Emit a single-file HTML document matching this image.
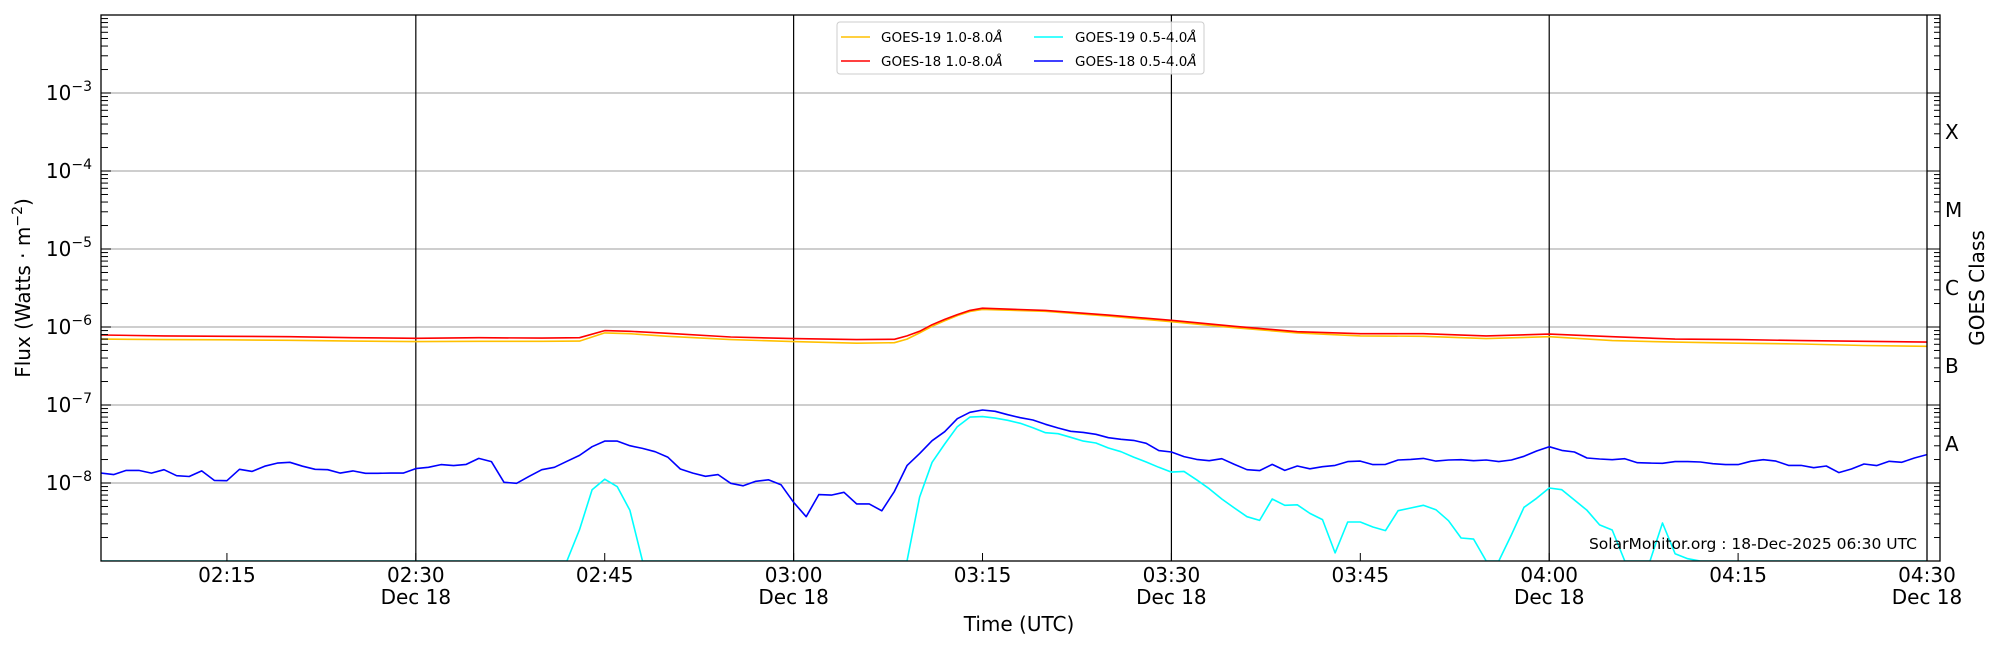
<!DOCTYPE html>
<html><head><meta charset="utf-8"><style>
html,body{margin:0;padding:0;background:#fff;}
svg{display:block;font-family:"DejaVu Sans","Liberation Sans",sans-serif;}
</style></head><body>
<svg id="chart" width="2000" height="650" viewBox="0 0 2000 650" xmlns="http://www.w3.org/2000/svg">
<defs><clipPath id="plotclip"><rect x="101" y="15" width="1826" height="546"/></clipPath></defs>
<rect x="0" y="0" width="2000" height="650" fill="#fff"/>
<g id="grid"></g>
<g id="vlines"></g>
<g id="series" clip-path="url(#plotclip)"></g>
<g id="axes"></g>
<g id="legend">
  <rect x="837" y="22" width="367" height="52" rx="3" fill="#fff" fill-opacity="0.8" stroke="#ccc" stroke-width="1"/>
  <line x1="841" y1="37" x2="870" y2="37" stroke="#ffc000" stroke-width="1.5"/>
  <text x="881" y="42" font-size="13.5">GOES-19 1.0-8.0<tspan font-style="italic">Å</tspan></text>
  <line x1="841" y1="61" x2="870" y2="61" stroke="#ff0000" stroke-width="1.5"/>
  <text x="881" y="66" font-size="13.5">GOES-18 1.0-8.0<tspan font-style="italic">Å</tspan></text>
  <line x1="1034" y1="37" x2="1063" y2="37" stroke="#00ffff" stroke-width="1.5"/>
  <text x="1075" y="42" font-size="13.5">GOES-19 0.5-4.0<tspan font-style="italic">Å</tspan></text>
  <line x1="1034" y1="61" x2="1063" y2="61" stroke="#0000ff" stroke-width="1.5"/>
  <text x="1075" y="66" font-size="13.5">GOES-18 0.5-4.0<tspan font-style="italic">Å</tspan></text>
</g>
<text x="1917" y="549" font-size="15.5" text-anchor="end">SolarMonitor.org : 18-Dec-2025 06:30 UTC</text>
<text transform="translate(30,288) rotate(-90)" font-size="20" text-anchor="middle">Flux (Watts · m<tspan dy="-8" font-size="14">−2</tspan><tspan dy="8">)</tspan></text>
<text transform="translate(1984,288) rotate(-90)" font-size="20" text-anchor="middle">GOES Class</text>
<text x="1019" y="631" font-size="20" text-anchor="middle">Time (UTC)</text>
</svg>
<script>
// minutes since 02:05 UTC
const shortMinutes = Array.from({length:146},(_, i)=>i);
const goes18Short = [
1.34e-8,1.28e-8,1.45e-8,1.45e-8,1.34e-8,1.48e-8,1.24e-8,1.21e-8,1.43e-8,1.08e-8,
1.07e-8,1.50e-8,1.41e-8,1.64e-8,1.80e-8,1.84e-8,1.64e-8,1.50e-8,1.48e-8,1.34e-8,
1.43e-8,1.33e-8,1.33e-8,1.34e-8,1.34e-8,1.53e-8,1.59e-8,1.72e-8,1.67e-8,1.73e-8,
2.07e-8,1.88e-8,1.02e-8,0.99e-8,1.22e-8,1.48e-8,1.59e-8,1.90e-8,2.26e-8,2.92e-8,
3.45e-8,3.45e-8,3.01e-8,2.78e-8,2.52e-8,2.15e-8,1.51e-8,1.34e-8,1.22e-8,1.28e-8,
0.99e-8,0.92e-8,1.05e-8,1.10e-8,0.95e-8,0.565e-8,0.37e-8,0.71e-8,0.70e-8,0.76e-8,
0.54e-8,0.54e-8,0.44e-8,0.78e-8,1.67e-8,2.38e-8,3.49e-8,4.55e-8,6.68e-8,8.05e-8,
8.63e-8,8.30e-8,7.52e-8,6.88e-8,6.43e-8,5.65e-8,5.07e-8,4.60e-8,4.46e-8,4.21e-8,
3.81e-8,3.63e-8,3.52e-8,3.23e-8,2.60e-8,2.50e-8,2.18e-8,2.01e-8,1.93e-8,2.05e-8,
1.73e-8,1.48e-8,1.44e-8,1.73e-8,1.45e-8,1.65e-8,1.52e-8,1.62e-8,1.68e-8,1.88e-8,
1.91e-8,1.72e-8,1.73e-8,1.97e-8,2.01e-8,2.07e-8,1.91e-8,1.97e-8,1.99e-8,1.93e-8,
1.97e-8,1.88e-8,1.97e-8,2.20e-8,2.57e-8,2.92e-8,2.62e-8,2.50e-8,2.09e-8,2.03e-8,
1.99e-8,2.05e-8,1.82e-8,1.80e-8,1.79e-8,1.88e-8,1.88e-8,1.86e-8,1.77e-8,1.72e-8,
1.72e-8,1.90e-8,1.99e-8,1.91e-8,1.68e-8,1.68e-8,1.57e-8,1.65e-8,1.36e-8,1.51e-8,
1.75e-8,1.67e-8,1.90e-8,1.84e-8,2.09e-8,2.31e-8];
const goes19Short = [
1e-9,1e-9,1e-9,1e-9,1e-9,1e-9,1e-9,1e-9,1e-9,1e-9,
1e-9,1e-9,1e-9,1e-9,1e-9,1e-9,1e-9,1e-9,1e-9,1e-9,
1e-9,1e-9,1e-9,1e-9,1e-9,1e-9,1e-9,1e-9,1e-9,1e-9,
1e-9,1e-9,1e-9,1e-9,1e-9,1e-9,1e-9,1e-9,2.52e-9,8.2e-9,
1.12e-8,8.97e-9,4.47e-9,1e-9,1e-9,1e-9,1e-9,1e-9,1e-9,1e-9,
1e-9,1e-9,1e-9,1e-9,1e-9,1e-9,1e-9,1e-9,1e-9,1e-9,
1e-9,1e-9,1e-9,1e-9,1e-9,6.6e-9,1.84e-8,3.16e-8,5.27e-8,7.0e-8,
7.1e-8,6.8e-8,6.36e-8,5.82e-8,5.12e-8,4.42e-8,4.29e-8,3.85e-8,3.45e-8,3.26e-8,
2.81e-8,2.52e-8,2.15e-8,1.86e-8,1.59e-8,1.38e-8,1.41e-8,1.10e-8,8.46e-9,6.23e-9,
4.78e-9,3.70e-9,3.32e-9,6.23e-9,5.17e-9,5.25e-9,4.08e-9,3.39e-9,1.27e-9,3.16e-9,
3.16e-9,2.73e-9,2.45e-9,4.42e-9,4.78e-9,5.17e-9,4.55e-9,3.29e-9,1.97e-9,1.91e-9,
1e-9,1e-9,2.16e-9,4.88e-9,6.36e-9,8.63e-9,8.2e-9,6.05e-9,4.47e-9,2.9e-9,
2.5e-9,1e-9,1e-9,1e-9,3.07e-9,1.24e-9,1.07e-9,1e-9,1e-9,1e-9,
1e-9,1e-9,1e-9,1e-9,1e-9,1e-9,1e-9,1e-9,1e-9,1e-9,
1e-9,1e-9,1e-9,1e-9,1e-9,1e-9];
const longMinutes = [0,5,10,15,20,25,30,35,38,40,42,45,50,55,60,63,64,65,66,67,68,69,70,75,80,85,90,95,100,105,110,115,120,125,130,135,140,145];
const goes18Long = [7.9e-7,7.7e-7,7.6e-7,7.5e-7,7.3e-7,7.16e-7,7.3e-7,7.2e-7,7.3e-7,9.0e-7,8.8e-7,8.3e-7,7.45e-7,7.1e-7,6.9e-7,6.95e-7,7.7e-7,8.8e-7,1.07e-6,1.25e-6,1.44e-6,1.63e-6,1.74e-6,1.63e-6,1.42e-6,1.22e-6,1.02e-6,8.7e-7,8.2e-7,8.2e-7,7.7e-7,8.1e-7,7.5e-7,7.0e-7,6.9e-7,6.7e-7,6.55e-7,6.4e-7];
const goes19Long = [7.0e-7,6.9e-7,6.85e-7,6.75e-7,6.6e-7,6.5e-7,6.55e-7,6.55e-7,6.6e-7,8.4e-7,8.2e-7,7.6e-7,6.9e-7,6.5e-7,6.2e-7,6.3e-7,7.0e-7,8.4e-7,1.02e-6,1.2e-6,1.4e-6,1.58e-6,1.68e-6,1.59e-6,1.38e-6,1.17e-6,9.8e-7,8.4e-7,7.7e-7,7.6e-7,7.1e-7,7.5e-7,6.7e-7,6.4e-7,6.2e-7,6.05e-7,5.8e-7,5.65e-7];
const xTickMinutes = [10,25,40,55,70,85,100,115,130,145];
const xTickLabels = ["02:15","02:30","02:45","03:00","03:15","03:30","03:45","04:00","04:15","04:30"];
const yTickExps = [-3,-4,-5,-6,-7,-8];
const classLabels = ["A","B","C","M","X"];
const classExps = [-7.5,-6.5,-5.5,-4.5,-3.5];

const NS="http://www.w3.org/2000/svg";
const L=101,R=1927,T=15,B=561;
const xMin=0,xMax=145,yMinE=-9,yMaxE=-2;
function xs(m){return L+(m-xMin)/(xMax-xMin)*(R-L);}
function ysE(e){return B-(e-yMinE)/(yMaxE-yMinE)*(B-T);}
function ys(v){return ysE(Math.log10(v));}
function mk(tag,attrs,parent){const e=document.createElementNS(NS,tag);for(const k in attrs)e.setAttribute(k,attrs[k]);parent.appendChild(e);return e;}
const grid=document.getElementById('grid'),vl=document.getElementById('vlines'),ser=document.getElementById('series'),ax=document.getElementById('axes');

yTickExps.forEach(e=>{
  const y=ys(Math.pow(10,e));
  const g=mk('line',{x1:L,x2:R,y1:y,y2:y,stroke:'#b0b0b0','stroke-width':1.2},grid);
  
  
  const t=mk('text',{x:L-9,y:y+7,'font-size':20,'text-anchor':'end'},ax);
  
  
  t.textContent='10';
  const s=document.createElementNS(NS,'tspan');s.setAttribute('dy','-9');s.setAttribute('font-size','14');s.textContent='−'+(-e);t.appendChild(s);
});
for(let e=yMinE;e<yMaxE;e++){
  for(let k=1;k<10;k++){
    const y=ys(k*Math.pow(10,e));
    const len=k===1?10:7;
    if(k>1||e>yMinE){
      const a=mk('line',{x1:L,x2:L+len,y1:y,y2:y,stroke:'#000','stroke-width':1},ax);
      
      
      const b=mk('line',{x1:1940,x2:1940-(k===1?13:6),y1:y,y2:y,stroke:'#000','stroke-width':1},ax);
      
      
    }
  }
}
classLabels.forEach((c,i)=>{
  const y=ysE(classExps[i]);
  const t=mk('text',{x:1945,y:y+7,'font-size':20},ax);
  
  
  t.textContent=c;
});
xTickMinutes.forEach((m,i)=>{
  const x=xs(m);
  const lab=xTickLabels[i];
  const half=lab.endsWith(':00')||lab.endsWith(':30');
  if(half && i<xTickMinutes.length-1){
    const v=mk('line',{x1:x,x2:x,y1:T,y2:B,stroke:'#000','stroke-width':1.2},vl);
    
    
  }
  const tk=mk('line',{x1:x,x2:x,y1:B,y2:B-8,stroke:'#000','stroke-width':1},ax);
  
  
  const t=mk('text',{x:x,y:582,'font-size':20,'text-anchor':'middle'},ax);
  
  
  t.textContent=lab;
  if(half){
    const d=mk('text',{x:x,y:604,'font-size':20,'text-anchor':'middle'},ax);
    
    
    d.textContent='Dec 18';
  }
});
function line(ms,vals,color,name){
  const pts=ms.map((m,i)=>xs(m).toFixed(1)+','+ys(vals[i]).toFixed(1)).join(' ');
  const p=mk('polyline',{points:pts,fill:'none',stroke:color,'stroke-width':1.6,'stroke-linejoin':'round'},ser);
  
  
}
line(longMinutes,goes19Long,'#ffc000','goes19-long-line');
line(longMinutes,goes18Long,'#ff0000','goes18-long-line');
line(shortMinutes,goes19Short,'#00ffff','goes19-short-line');
line(shortMinutes,goes18Short,'#0000ff','goes18-short-line');
const fr=mk('rect',{x:L,y:T,width:1940-L,height:B-T,fill:'none',stroke:'#000','stroke-width':1.3},ax);


const rs=mk('line',{x1:R,x2:R,y1:T,y2:B,stroke:'#000','stroke-width':1.3},ax);


</script>
</body></html>
